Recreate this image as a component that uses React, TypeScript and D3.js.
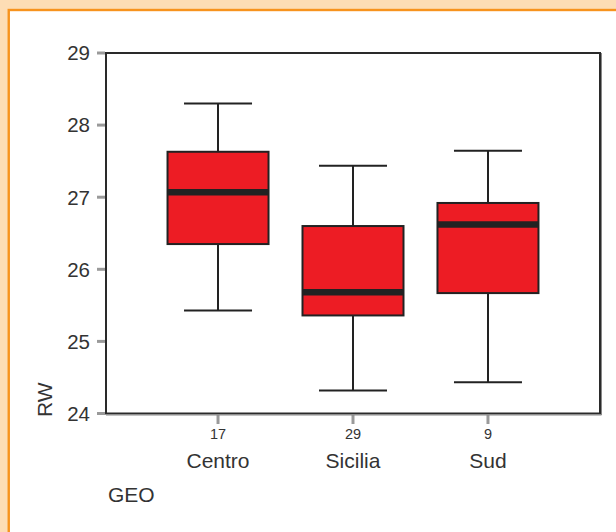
import React from "react";
import * as d3 from "d3";

const categories = ["Centro", "Sicilia", "Sud"];
const counts = ["17", "29", "9"];
const whiskerLow = [25.43, 24.32, 24.435];
const q1 = [26.35, 25.36, 25.67];
const median = [27.07, 25.68, 26.62];
const q3 = [27.63, 26.6, 26.92];
const whiskerHigh = [28.3, 27.435, 27.645];
const yTicks = [24, 25, 26, 27, 28, 29];

const W = 616;
const H = 532;
const plot = { left: 106, right: 600, top: 53, bottom: 413.5 };
const FONT = "'Liberation Sans', Arial, Helvetica, sans-serif";
const TEXT = "#333";

export default function App() {
  const y = d3.scaleLinear().domain([24, 29]).range([plot.bottom, plot.top]);
  const x = d3.scalePoint<string>().domain(categories).range([plot.left, plot.right]).padding(0.83);
  const boxW = 101;
  const capW = 68;

  return (
    <svg width={W} height={H} style={{ position: "absolute", left: 0, top: 0, display: "block" }}>
      <rect x={0} y={0} width={W} height={H} fill="#FDDDB5" />
      <rect x={8.75} y={10} width={W + 20} height={H + 20} fill="#fff" stroke="#F7931E" strokeWidth={2.4} />

      {/* y ticks */}
      {yTicks.map((t) => (
        <g key={t}>
          <line x1={97} x2={105} y1={y(t)} y2={y(t)} stroke="#9a9a9a" strokeWidth={3} />
          <text x={90} y={y(t)} dy="0.36em" textAnchor="end" fontFamily={FONT} fontSize={20.5} fill={TEXT}>
            {t}
          </text>
        </g>
      ))}

      {/* x ticks and labels */}
      {categories.map((c, i) => (
        <g key={c}>
          <line x1={x(c)!} x2={x(c)!} y1={415} y2={424} stroke="#9a9a9a" strokeWidth={3} />
          <text x={x(c)!} y={439} textAnchor="middle" fontFamily={FONT} fontSize={14.5} fill={TEXT}>
            {counts[i]}
          </text>
          <text x={x(c)!} y={467.5} textAnchor="middle" fontFamily={FONT} fontSize={21} fill={TEXT}>
            {c}
          </text>
        </g>
      ))}

      {/* frame */}
      <rect x={plot.left} y={plot.top} width={plot.right - plot.left} height={plot.bottom - plot.top} fill="none" stroke="#2a2a2a" strokeWidth={2} />
      <line x1={plot.right + 1.5} x2={plot.right + 1.5} y1={plot.top} y2={plot.bottom + 1.5} stroke="#888" strokeWidth={1} />
      <line x1={plot.left} x2={plot.right + 1.5} y1={plot.bottom + 1.5} y2={plot.bottom + 1.5} stroke="#888" strokeWidth={1} />

      {/* boxes */}
      {categories.map((c, i) => {
        const cx = x(c)!;
        return (
          <g key={c}>
            <line x1={cx} x2={cx} y1={y(whiskerHigh[i])} y2={y(q3[i])} stroke="#222" strokeWidth={2} />
            <line x1={cx} x2={cx} y1={y(q1[i])} y2={y(whiskerLow[i])} stroke="#222" strokeWidth={2} />
            <line x1={cx - capW / 2} x2={cx + capW / 2} y1={y(whiskerHigh[i])} y2={y(whiskerHigh[i])} stroke="#222" strokeWidth={2} />
            <line x1={cx - capW / 2} x2={cx + capW / 2} y1={y(whiskerLow[i])} y2={y(whiskerLow[i])} stroke="#222" strokeWidth={2} />
            <rect x={cx - boxW / 2} y={y(q3[i])} width={boxW} height={y(q1[i]) - y(q3[i])} fill="#ED1C24" stroke="#222" strokeWidth={2} />
            <line x1={cx - boxW / 2} x2={cx + boxW / 2} y1={y(median[i])} y2={y(median[i])} stroke="#222" strokeWidth={6.5} />
          </g>
        );
      })}

      {/* axis titles */}
      <text transform="translate(52,417) rotate(-90)" fontFamily={FONT} fontSize={21} fill={TEXT}>
        RW
      </text>
      <text x={108} y={502} fontFamily={FONT} fontSize={21} fill={TEXT}>
        GEO
      </text>
    </svg>
  );
}
